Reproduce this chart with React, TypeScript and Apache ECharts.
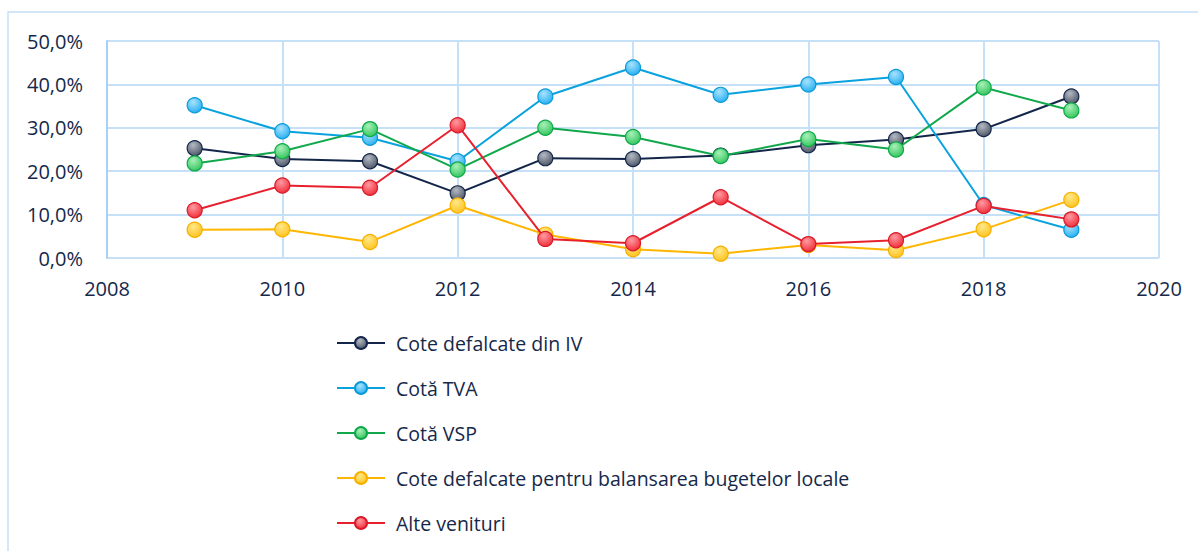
import React, { useEffect, useRef } from "react";
import * as echarts from "echarts";

const years = [2009, 2010, 2011, 2012, 2013, 2014, 2015, 2016, 2017, 2018, 2019];
const coteIV = [25.3, 22.8, 22.3, 14.9, 23.0, 22.8, 23.6, 26.0, 27.3, 29.7, 37.2];
const cotaTVA = [35.2, 29.2, 27.7, 22.3, 37.2, 43.9, 37.6, 40.0, 41.7, 12.2, 6.5];
const cotaVSP = [21.8, 24.6, 29.7, 20.4, 30.0, 27.9, 23.5, 27.4, 25.0, 39.3, 34.0];
const coteBalansare = [6.5, 6.6, 3.7, 12.1, 5.4, 2.0, 1.0, 3.0, 1.8, 6.6, 13.4];
const alteVenituri = [11.0, 16.7, 16.2, 30.6, 4.4, 3.4, 14.0, 3.2, 4.1, 12.0, 8.9];

const seriesNames = [
  "Cote defalcate din IV",
  "Cotă TVA",
  "Cotă VSP",
  "Cote defalcate pentru balansarea bugetelor locale",
  "Alte venituri",
];
const seriesData = [coteIV, cotaTVA, cotaVSP, coteBalansare, alteVenituri];

const styles = [
  { line: "#13264A", light: "#B4BAC4", dark: "#4A5262", border: "#13264A" },
  { line: "#0AA2DE", light: "#A8E2FF", dark: "#22AEF0", border: "#0A9AD8" },
  { line: "#10A84A", light: "#A8F0B8", dark: "#2EC45A", border: "#10A84A" },
  { line: "#FFB600", light: "#FFE88A", dark: "#FFC21A", border: "#F5B000" },
  { line: "#E8202E", light: "#FF9AA2", dark: "#F02A36", border: "#D81A28" },
];

const FONT = "'Open Sans', sans-serif";
const TEXT = "#15284A";

export default function App() {
  const ref = useRef<HTMLDivElement>(null);
  useEffect(() => {
    if (!ref.current) return;
    const chart = echarts.init(ref.current, null, { renderer: "svg" });
    const series = seriesNames.map((name, i) => ({
      name,
      type: "line",
      data: years.map((y, j) => [y, seriesData[i][j]]),
      symbol: "circle",
      symbolSize: 15,
      lineStyle: { color: styles[i].line, width: 2 },
      itemStyle: {
        color: new echarts.graphic.RadialGradient(0.4, 0.3, 0.75, [
          { offset: 0, color: styles[i].light },
          { offset: 1, color: styles[i].dark },
        ]),
        borderColor: styles[i].border,
        borderWidth: 1.2,
      },
      z: 2 + i,
    }));
    chart.setOption({
      animation: false,
      backgroundColor: "#ffffff",
      textStyle: { fontFamily: FONT },
      graphic: [
        {
          type: "rect",
          shape: { x: 8, y: 12, width: 1250, height: 600 },
          style: { fill: "none", stroke: "#C6E0F8", lineWidth: 1.5 },
          silent: true,
        },
      ],
      grid: { left: 107, right: 39, top: 41, height: 217, containLabel: false },
      xAxis: {
        type: "value",
        min: 2008,
        max: 2020,
        interval: 2,
        axisLine: { show: false },
        axisTick: { show: false },
        splitLine: { show: true, lineStyle: { color: "#C6E0F8", width: 2 } },
        axisLabel: {
          color: TEXT,
          fontSize: 20,
          fontFamily: FONT,
          margin: 20,
          formatter: (v: number) => String(v),
        },
      },
      yAxis: {
        type: "value",
        min: 0,
        max: 50,
        interval: 10,
        axisLine: { show: true, lineStyle: { color: "#A6D0F6", width: 2 } },
        axisTick: { show: false },
        splitLine: { show: true, lineStyle: { color: "#C6E0F8", width: 2 } },
        axisLabel: {
          color: TEXT,
          fontSize: 20,
          fontFamily: FONT,
          margin: 24,
          formatter: (v: number) => v.toFixed(1).replace(".", ",") + "%",
        },
      },
      legend: {
        orient: "vertical",
        left: 336,
        top: 333,
        padding: 0,
        itemWidth: 48,
        itemHeight: 15,
        itemGap: 25,
        textStyle: {
          color: TEXT,
          fontSize: 19.5,
          lineHeight: 20,
          fontFamily: FONT,
          padding: [0, 0, 0, 6],
        },
        data: seriesNames,
      },
      series,
    });
    return () => chart.dispose();
  }, []);
  return (
    <div
      ref={ref}
      style={{ position: "fixed", left: 0, top: 0, width: 1198, height: 551 }}
    />
  );
}
